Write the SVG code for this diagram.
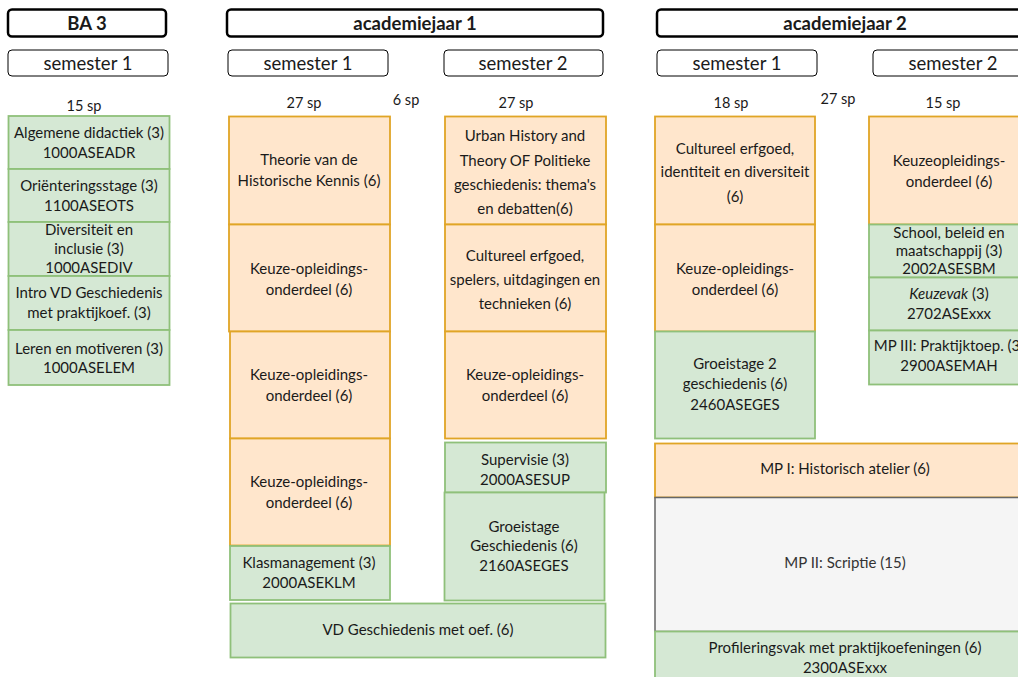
<svg xmlns="http://www.w3.org/2000/svg" width="1018" height="677" viewBox="0 0 1018 677">
<style>
rect.hdr{fill:#fff;stroke:#000;stroke-width:2.5}
rect.sem{fill:#fff;stroke:#000;stroke-width:1}
rect.or{fill:#ffe6cc;stroke:#e0a526;stroke-width:1.8}
rect.gr{fill:#d5e8d4;stroke:#8fc07a;stroke-width:1.8}
rect.gy{fill:#f5f5f5;stroke:#666;stroke-width:1.5}
text{font-family:Lato,"Liberation Sans",sans-serif;font-size:15px;fill:#1a1a1a;text-anchor:middle}
text.h{font-weight:bold;font-size:18.5px}
text.s{font-size:18.5px}
text.sp{font-size:14.5px}
text.g{fill:#333}
</style>
<rect width="1018" height="677" fill="#fff"/>
<g id="hdr-ba3"><rect class="hdr" x="8" y="9.5" width="158" height="27" rx="4"/><text class="h" x="87" y="29.5">BA 3</text></g>
<g id="hdr-aj1"><rect class="hdr" x="227" y="9.5" width="376" height="27" rx="4"/><text class="h" x="415" y="29.5">academiejaar 1</text></g>
<g id="hdr-aj2"><rect class="hdr" x="657" y="9.5" width="376" height="27" rx="4"/><text class="h" x="845" y="29.5">academiejaar 2</text></g>

<g id="sem-ba3-1"><rect class="sem" x="8" y="50" width="160" height="26" rx="4"/><text class="s" x="88" y="69.5">semester 1</text></g>
<g id="sem-aj1-1"><rect class="sem" x="228" y="50" width="160" height="26" rx="4"/><text class="s" x="308" y="69.5">semester 1</text></g>
<g id="sem-aj1-2"><rect class="sem" x="444" y="50" width="159" height="26" rx="4"/><text class="s" x="523" y="69.5">semester 2</text></g>
<g id="sem-aj2-1"><rect class="sem" x="657" y="50" width="160" height="26" rx="4"/><text class="s" x="737" y="69.5">semester 1</text></g>
<g id="sem-aj2-2"><rect class="sem" x="873" y="50" width="160" height="26" rx="4"/><text class="s" x="953" y="69.5">semester 2</text></g>

<g id="sp-labels">
<text class="sp" x="84" y="111">15 sp</text>
<text class="sp" x="304" y="108">27 sp</text>
<text class="sp" x="406" y="105">6 sp</text>
<text class="sp" x="516" y="108">27 sp</text>
<text class="sp" x="731" y="108">18 sp</text>
<text class="sp" x="838" y="104">27 sp</text>
<text class="sp" x="943" y="108">15 sp</text>
</g>

<g id="n-algemene"><rect class="gr" x="8.5" y="116" width="161" height="53"/><text x="89" y="138">Algemene didactiek (3)</text><text x="89" y="158">1000ASEADR</text></g>
<g id="n-orient"><rect class="gr" x="8.5" y="169" width="161" height="53"/><text x="89" y="191">Oriënteringsstage (3)</text><text x="89" y="211">1100ASEOTS</text></g>
<g id="n-divers"><rect class="gr" x="8.5" y="222" width="161" height="54"/><text x="89" y="235">Diversiteit en</text><text x="89" y="254">inclusie (3)</text><text x="89" y="273">1000ASEDIV</text></g>
<g id="n-intro"><rect class="gr" x="8.5" y="276" width="161" height="54"/><text x="89" y="298">Intro VD Geschiedenis</text><text x="89" y="318">met praktijkoef. (3)</text></g>
<g id="n-leren"><rect class="gr" x="8.5" y="330" width="161" height="55"/><text x="89" y="354">Leren en motiveren (3)</text><text x="89" y="373">1000ASELEM</text></g>

<g id="n-theorie"><rect class="or" x="229" y="116.5" width="161" height="108"/><text x="309" y="165">Theorie van de</text><text x="309" y="186">Historische Kennis (6)</text></g>
<g id="n-keuze1a"><rect class="or" x="229" y="224.5" width="161" height="107"/><text x="309" y="274">Keuze-opleidings-</text><text x="309" y="295">onderdeel (6)</text></g>
<g id="n-keuze1b"><rect class="or" x="230" y="331.5" width="160" height="107"/><text x="309" y="380">Keuze-opleidings-</text><text x="309" y="401">onderdeel (6)</text></g>
<g id="n-keuze1c"><rect class="or" x="230" y="438.5" width="160" height="107"/><text x="309" y="487">Keuze-opleidings-</text><text x="309" y="508">onderdeel (6)</text></g>
<g id="n-klas"><rect class="gr" x="230" y="546" width="160" height="54"/><text x="309" y="568">Klasmanagement (3)</text><text x="309" y="588">2000ASEKLM</text></g>
<g id="n-vd"><rect class="gr" x="230.5" y="603.5" width="375" height="54"/><text x="418" y="635">VD Geschiedenis met oef. (6)</text></g>

<g id="n-urban"><rect class="or" x="445" y="116.5" width="161" height="108"/><text x="525" y="141">Urban History and</text><text x="525" y="166">Theory OF Politieke</text><text x="525" y="190">geschiedenis: thema's</text><text x="525" y="214">en debatten(6)</text></g>
<g id="n-cult1"><rect class="or" x="445" y="224.5" width="161" height="107"/><text x="525" y="261">Cultureel erfgoed,</text><text x="525" y="285">spelers, uitdagingen en</text><text x="525" y="309">technieken (6)</text></g>
<g id="n-keuze2"><rect class="or" x="445" y="331.5" width="161" height="107"/><text x="525" y="380">Keuze-opleidings-</text><text x="525" y="401">onderdeel (6)</text></g>
<g id="n-supervisie"><rect class="gr" x="445" y="442.5" width="161" height="50"/><text x="525" y="465">Supervisie (3)</text><text x="525" y="485">2000ASESUP</text></g>
<g id="n-groei1"><rect class="gr" x="444.5" y="492.5" width="160" height="108"/><text x="524" y="532">Groeistage</text><text x="524" y="551">Geschiedenis (6)</text><text x="524" y="571">2160ASEGES</text></g>

<g id="n-cult2"><rect class="or" x="655" y="116.5" width="160" height="108"/><text x="735" y="154">Cultureel erfgoed,</text><text x="735" y="177">identiteit en diversiteit</text><text x="735" y="202">(6)</text></g>
<g id="n-keuze3"><rect class="or" x="655" y="224.5" width="160" height="107"/><text x="735" y="274">Keuze-opleidings-</text><text x="735" y="295">onderdeel (6)</text></g>
<g id="n-groei2"><rect class="gr" x="655" y="331.5" width="160" height="107"/><text x="735" y="369">Groeistage 2</text><text x="735" y="389">geschiedenis (6)</text><text x="735" y="410">2460ASEGES</text></g>
<g id="n-mp1"><rect class="or" x="655" y="443.5" width="378" height="54"/><text x="845" y="474">MP I: Historisch atelier (6)</text></g>
<g id="n-mp2"><rect class="gy" x="655" y="497.5" width="378" height="134"/><text class="g" x="845" y="568">MP II: Scriptie (15)</text></g>
<g id="n-prof"><rect class="gr" x="655" y="631.5" width="378" height="60"/><text x="845" y="653">Profileringsvak met praktijkoefeningen (6)</text><text x="845" y="673">2300ASExxx</text></g>

<g id="n-keuze4"><rect class="or" x="869" y="116.5" width="161" height="108"/><text x="949" y="166">Keuzeopleidings-</text><text x="949" y="187">onderdeel (6)</text></g>
<g id="n-school"><rect class="gr" x="869" y="224.5" width="161" height="53"/><text x="949" y="238">School, beleid en</text><text x="949" y="256">maatschappij (3)</text><text x="949" y="274">2002ASESBM</text></g>
<g id="n-keuzevak"><rect class="gr" x="869" y="277.5" width="161" height="53"/><text x="949" y="299"><tspan font-style="italic">Keuzevak</tspan> (3)</text><text x="949" y="319">2702ASExxx</text></g>
<g id="n-mp3"><rect class="gr" x="869" y="330.5" width="161" height="54"/><text x="949" y="351">MP III: Praktijktoep. (3)</text><text x="949" y="371">2900ASEMAH</text></g>
</svg>
